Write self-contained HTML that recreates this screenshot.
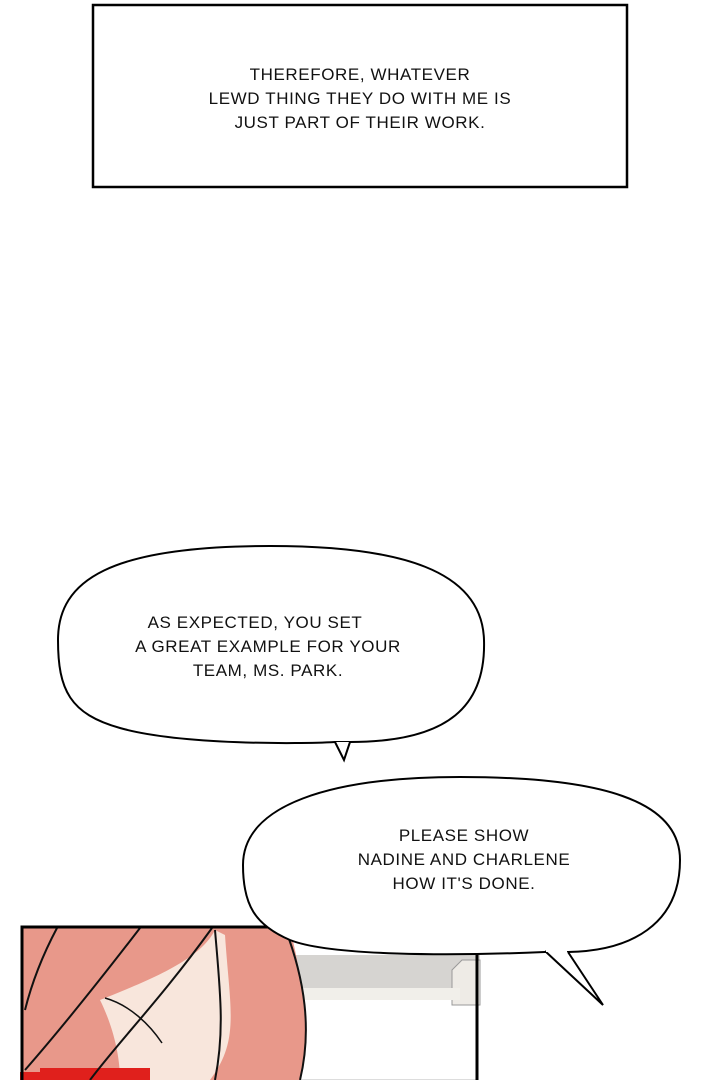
<!DOCTYPE html>
<html><head><meta charset="utf-8"><style>
html,body{margin:0;padding:0;background:#fff;width:720px;height:1080px;overflow:hidden}
svg text{font-family:"Liberation Sans",sans-serif;font-size:17px;fill:#111;text-anchor:middle;letter-spacing:0.6px}
</style></head><body>
<svg width="720" height="1080" viewBox="0 0 720 1080" xmlns="http://www.w3.org/2000/svg">
<rect width="720" height="1080" fill="#fff"/>
<rect x="93" y="5" width="534" height="182" fill="#fff" stroke="#000" stroke-width="2.5"/>
<text x="360" y="80">THEREFORE, WHATEVER</text>
<text x="360" y="104">LEWD THING THEY DO WITH ME IS</text>
<text x="360" y="128">JUST PART OF THEIR WORK.</text>

<rect x="279" y="926" width="198" height="154" fill="#fff" stroke="#ddd" stroke-width="2"/>
<rect x="290" y="955" width="190" height="33" fill="#d6d4d1"/>
<path d="M452 970 L462 960 L480 960 L480 1005 L452 1005 Z" fill="#eeebe6" stroke="#999" stroke-width="1"/>
<rect x="290" y="988" width="170" height="12" fill="#f1efea"/>
<g>
<path d="M23 928 L290 928 C305 990 310 1040 300 1080 L23 1080 Z" fill="#e8988a"/>
<path d="M100 1000 C150 980 200 960 215 930 L225 935 C230 1010 240 1040 210 1080 L120 1080 C120 1050 110 1020 100 1000Z" fill="#f8e6dc"/>
<path d="M40 1068 L150 1068 L150 1080 L40 1080Z" fill="#e0201c"/>
<path d="M20 1072 L60 1072 L60 1080 L20 1080Z" fill="#e0201c"/>
<path d="M57 928 C40 960 30 990 25 1010 M140 928 C100 980 60 1030 25 1070 M212 928 C160 1000 120 1040 90 1080 M215 930 C220 990 225 1030 215 1080 M285 928 C305 980 312 1030 300 1080" fill="none" stroke="#111" stroke-width="2"/>
<path d="M105 998 C130 1005 150 1025 162 1043" fill="none" stroke="#111" stroke-width="1.5"/>
</g>
<rect x="22" y="927" width="455" height="160" fill="none" stroke="#000" stroke-width="3"/>

<path d="M270 546 C400 546 482 570 484 640 C486 705 450 742 350 742 L335 742 C300 744 180 745 120 728 C70 714 58 690 58 640 C58 580 110 546 270 546 Z" fill="#fff" stroke="#000" stroke-width="2"/>
<path d="M335 742 L344 760 L350 742" fill="#fff" stroke="#000" stroke-width="2"/>
<text x="255" y="628">AS EXPECTED, YOU SET</text>
<text x="268" y="652">A GREAT EXAMPLE FOR YOUR</text>
<text x="268" y="676">TEAM, MS. PARK.</text>

<path d="M460 777 C600 777 680 800 680 860 C680 925 630 951 568 952 L545 952 C450 956 330 956 290 940 C255 925 243 905 243 865 C243 805 330 777 460 777 Z" fill="#fff" stroke="#000" stroke-width="2"/>
<path d="M545 951 L603 1005 L568 952" fill="#fff" stroke="#000" stroke-width="2"/>
<rect x="546" y="946" width="21" height="6" fill="#fff"/>
<text x="464" y="841">PLEASE SHOW</text>
<text x="464" y="865">NADINE AND CHARLENE</text>
<text x="464" y="889">HOW IT'S DONE.</text>
</svg>
</body></html>
